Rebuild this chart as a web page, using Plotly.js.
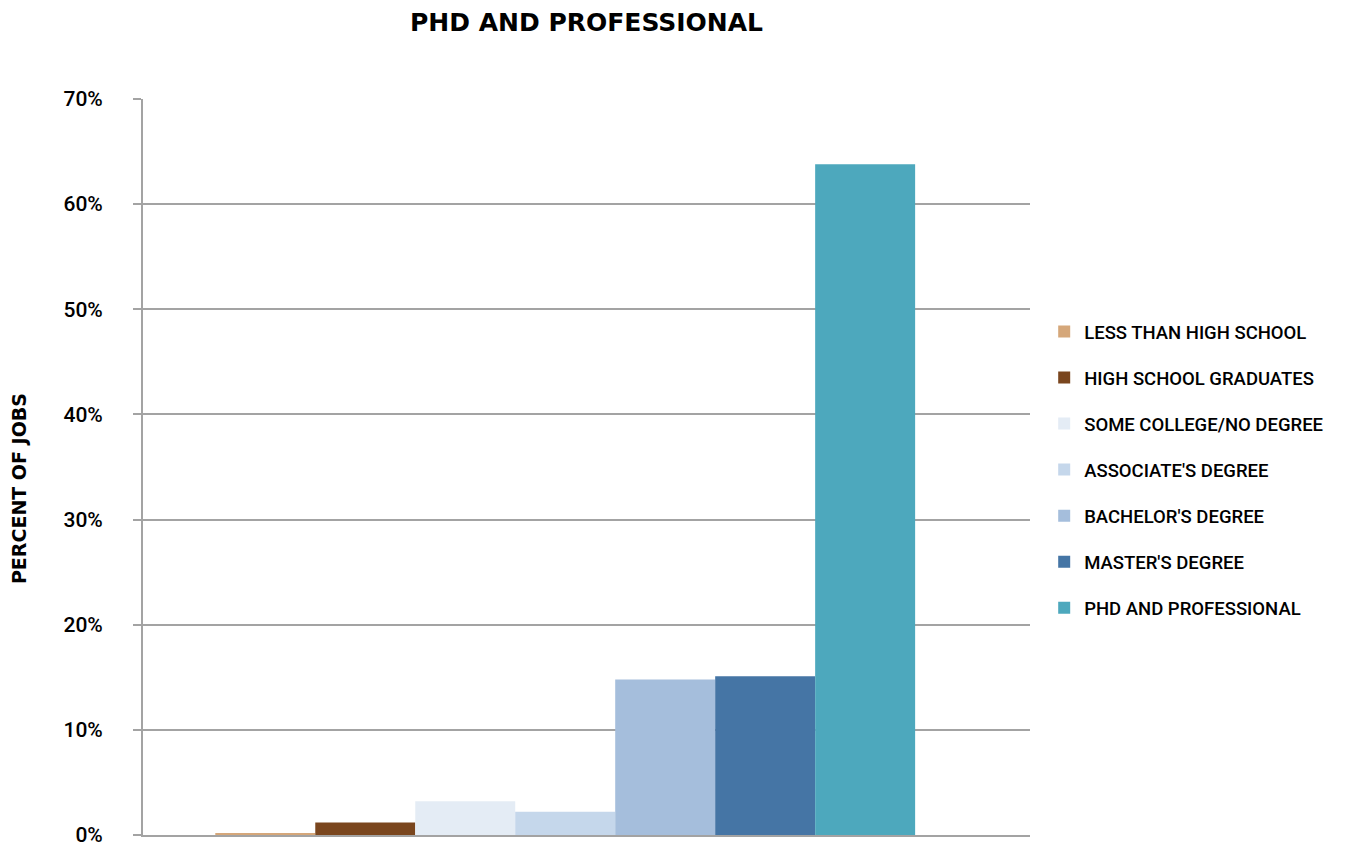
<!DOCTYPE html>
<html>
<head>
<meta charset="utf-8">
<script src="https://cdn.plot.ly/plotly-3.0.1.min.js"></script>
<style>html,body{margin:0;padding:0;background:#fff;}#chart{width:1346px;height:848px;}</style>
</head>
<body>
<div id="chart"></div>
<script>
const categories = ['PHD AND PROFESSIONAL'];
const seriesNames = ['LESS THAN HIGH SCHOOL','HIGH SCHOOL GRADUATES','SOME COLLEGE/NO DEGREE',"ASSOCIATE'S DEGREE","BACHELOR'S DEGREE","MASTER'S DEGREE",'PHD AND PROFESSIONAL'];
const lessThanHS = [0.2];
const hsGraduates = [1.2];
const someCollege = [3.2];
const associates = [2.2];
const bachelors = [14.8];
const masters = [15.1];
const phdProfessional = [63.8];
const seriesValues = [lessThanHS, hsGraduates, someCollege, associates, bachelors, masters, phdProfessional];
const colors = ['#D5A77A','#7A461E','#E4ECF5','#C5D7EB','#A5BEDC','#4575A5','#4DA8BD'];
const yTickVals = [0,10,20,30,40,50,60,70];

const font = 'Roboto, "DejaVu Sans", sans-serif';
const wide = '"DejaVu Sans", sans-serif';

const traces = seriesNames.map((n,i)=>({
  type:'bar', name:n, x:categories, y:seriesValues[i],
  marker:{color:colors[i], line:{width:0}},
  legendgroup:'g'+i, hoverinfo:'name+y'
}));

const layout = {
  width:1346, height:848,
  margin:{l:143, r:316, t:99, b:13, pad:0},
  paper_bgcolor:'#fff', plot_bgcolor:'#fff',
  barmode:'group', bargap:0.211, bargroupgap:0,
  title:{text:'<b>PHD AND PROFESSIONAL</b>', font:{family:wide, size:25, color:'#000'}, x:0.5, xref:'paper', xanchor:'center', y:0.974, yanchor:'middle'},
  xaxis:{type:'category', range:[-0.476,0.524], showticklabels:false, showgrid:false, zeroline:false,
    showline:true, linecolor:'#a3a3a3', linewidth:2, ticks:'', fixedrange:true},
  yaxis:{range:[0,70], tickvals:yTickVals, ticktext:yTickVals.map(v=>v+'%'),
    showgrid:true, gridcolor:'#a3a3a3', gridwidth:2, zeroline:false,
    showline:true, linecolor:'#a3a3a3', linewidth:2,
    ticks:'outside', ticklen:8, tickwidth:2, tickcolor:'#a3a3a3', ticklabelstandoff:26,
    tickfont:{family:font, size:21, weight:500, color:'#000'}, fixedrange:true},
  showlegend:true,
  legend:{x:1.016, xanchor:'left', y:0.496, yanchor:'middle', traceorder:'grouped', tracegroupgap:19,
    font:{family:font, size:18.5, weight:500, color:'#000'}, itemwidth:30, bgcolor:'rgba(0,0,0,0)'},
  annotations:[{text:'<b>PERCENT OF JOBS</b>', textangle:-90, xref:'paper', yref:'paper', x:0, y:0.47,
    xanchor:'center', yanchor:'middle', xshift:-124, showarrow:false, font:{family:wide, size:19, color:'#000'}}]
};
Plotly.newPlot('chart', traces, layout, {displayModeBar:false, staticPlot:true});
</script>
</body>
</html>
